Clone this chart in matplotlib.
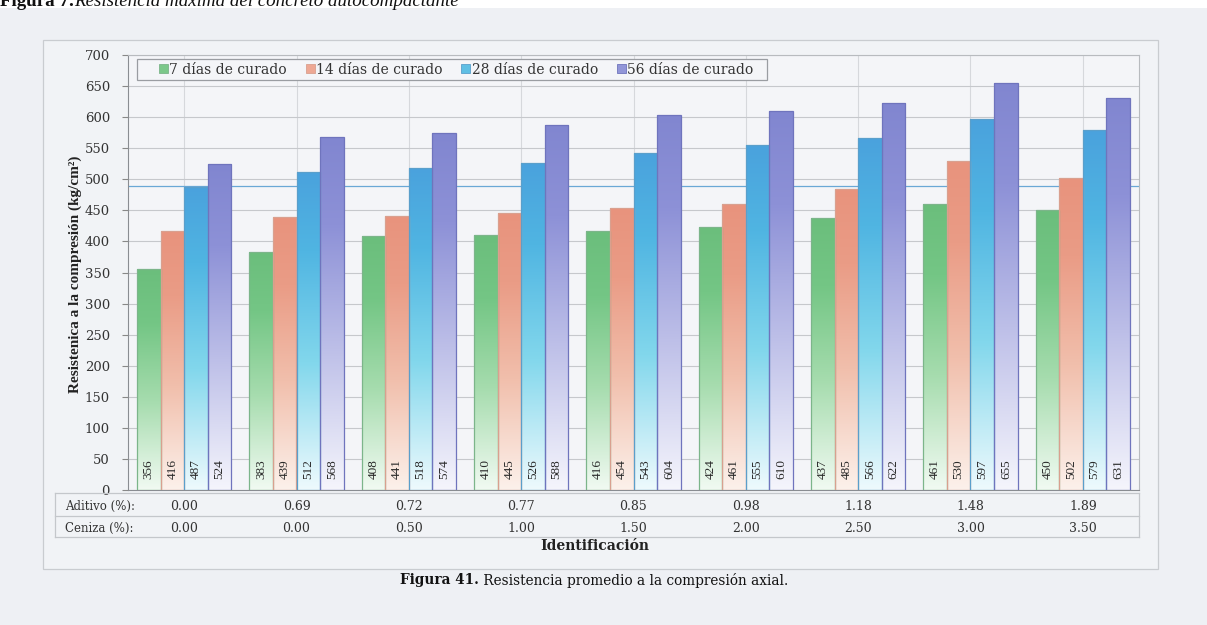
import matplotlib.pyplot as plt
import numpy as np
from matplotlib.colors import LinearSegmentedColormap
from matplotlib.lines import Line2D
from matplotlib.patches import Patch, Rectangle

# resistencia a la compresión (kg/cm2) por edad de curado
series_labels = ["7 días de curado", "14 días de curado",
                 "28 días de curado", "56 días de curado"]
dias_7 = [356, 383, 408, 410, 416, 424, 437, 461, 450]
dias_14 = [416, 439, 441, 445, 454, 461, 485, 530, 502]
dias_28 = [487, 512, 518, 526, 543, 555, 566, 597, 579]
dias_56 = [524, 568, 574, 588, 604, 610, 622, 655, 631]

aditivo = ["0.00", "0.69", "0.72", "0.77", "0.85", "0.98", "1.18", "1.48", "1.89"]
ceniza = ["0.00", "0.00", "0.50", "1.00", "1.50", "2.00", "2.50", "3.00", "3.50"]
y_ticks = list(range(0, 701, 50))
linea_ref = 490

W, H = 1207, 625
BG = "#eef0f4"
SERIF = "DejaVu Serif"
TIMES = "Liberation Serif"

# degradados: de casi blanco abajo al color pleno arriba
gradients = [
    ["#f1faf2", "#a6dcae", "#74c685", "#6bbe7c"],
    ["#fcf1eb", "#f1bfac", "#ea9c86", "#e8937d"],
    ["#eefafd", "#82d7ec", "#50b5e2", "#4aa2dd"],
    ["#f5f5fc", "#bdbfe8", "#8d91d7", "#8186d0"],
]
edge_colors = ["#7cb58a", "#d9a08f", "#5a9fcb", "#6f74bd"]
legend_colors = ["#7cc88a", "#eea894", "#5fbfe4", "#9296d8"]


def fx(x):
    return x / W


def fy(y):
    return 1 - y / H


fig = plt.figure(figsize=(W / 100, H / 100), dpi=100)
fig.patch.set_facecolor("white")
fig.add_artist(Rectangle((0, 0), 1, fy(8), transform=fig.transFigure,
                         facecolor=BG, edgecolor="none", zorder=-10))
fig.add_artist(Rectangle((fx(43), fy(569)), fx(1158) - fx(43), fy(40) - fy(569),
                         transform=fig.transFigure, facecolor="#f1f3f6",
                         edgecolor="#c9ccd0", linewidth=0.9, zorder=-5))

ax = fig.add_axes([fx(128), fy(490), fx(1139) - fx(128), fy(55) - fy(490)])
ax.set_facecolor("#f4f5f8")


def ax_x(px):
    return (px - 128) / (1139 - 128)


def ax_y(py):
    return (490 - py) / (490 - 55)


x = np.arange(len(aditivo))
width = 0.21
grad = np.linspace(0, 1, 256).reshape(-1, 1)
for k, values in enumerate([dias_7, dias_14, dias_28, dias_56]):
    cmap = LinearSegmentedColormap.from_list(
        f"g{k}", list(zip([0.0, 0.4, 0.75, 1.0], gradients[k])))
    bars = ax.bar(x + (k - 1.5) * width, values, width, facecolor="none",
                  edgecolor=edge_colors[k], linewidth=0.9, zorder=3)
    for rect, v in zip(bars, values):
        x0 = rect.get_x()
        im = ax.imshow(grad, extent=(x0, x0 + width, 0, v), origin="lower",
                       aspect="auto", cmap=cmap, interpolation="bilinear", zorder=2)
        im.set_clip_path(rect)
        ax.text(x0 + width / 2, 34, str(v), rotation=90, ha="center", va="center",
                fontsize=9.5, family=TIMES, color="#2a2a2a", zorder=4)

ax.axhline(linea_ref, color="#6aa8d6", linewidth=0.9, zorder=1)
ax.set_xlim(-0.5, len(aditivo) - 0.5)
ax.set_ylim(0, 700)
ax.set_yticks(y_ticks)
ax.set_xticks(x)
ax.tick_params(axis="x", length=0, labelbottom=False)
ax.tick_params(axis="y", length=4, pad=9, color="#888888", labelsize=9.5,
               labelcolor="#333333")
for lab in ax.get_yticklabels():
    lab.set_family(SERIF)
ax.grid(True, axis="y", color="#c6c8cc", linewidth=0.8, zorder=0)
ax.grid(True, axis="x", color="#d6d8dc", linewidth=0.8, zorder=0)
ax.set_axisbelow(True)
for side in ["top", "right"]:
    ax.spines[side].set_color("#b8bbbf")
ax.spines["left"].set_color("#8a8d92")
ax.spines["bottom"].set_color("#8a8d92")

# marco de la leyenda dibujado aparte para dejar margen a los lados
ax.add_patch(Rectangle((ax_x(137), ax_y(80)), ax_x(767) - ax_x(137),
                       ax_y(59) - ax_y(80), transform=ax.transAxes,
                       facecolor="#f4f5f8", edgecolor="#9a9da2", linewidth=0.9,
                       zorder=5, clip_on=False))
handles = [Patch(facecolor=c, edgecolor=e, linewidth=0.6)
           for c, e in zip(legend_colors, edge_colors)]
leg = ax.legend(handles, series_labels, ncol=4, loc="center left",
                bbox_to_anchor=(ax_x(159), ax_y(69.5)), bbox_transform=ax.transAxes,
                frameon=False, handlelength=0.65, handleheight=0.55,
                handletextpad=0.1, columnspacing=1.35, borderpad=0.0,
                borderaxespad=0.0, prop={"family": SERIF, "size": 10})
leg.set_zorder(6)
for t in leg.get_texts():
    t.set_color("#333333")

# tabla de aditivo y ceniza debajo del eje
for yy in [493, 516, 537]:
    fig.add_artist(Line2D([fx(55), fx(1139)], [fy(yy), fy(yy)],
                          transform=fig.transFigure, color="#c4c7cb", linewidth=0.9))
for xx in [55, 1139]:
    fig.add_artist(Line2D([fx(xx), fx(xx)], [fy(493), fy(537)],
                          transform=fig.transFigure, color="#c4c7cb", linewidth=0.9))
cell_tf = ax.get_xaxis_transform()
for row_label, row, yy in [("Aditivo (%):", aditivo, 506), ("Ceniza (%):", ceniza, 528)]:
    fig.text(fx(65), fy(yy), row_label, ha="left", va="center",
             fontsize=8.5, family=SERIF, color="#333333")
    for xi, val in zip(x, row):
        ax.text(xi, ax_y(yy), val, transform=cell_tf, ha="center", va="center",
                fontsize=9, family=SERIF, color="#333333", clip_on=False)

fig.text(fx(595), fy(546), "Identificación", ha="center", va="center",
         fontsize=10, family=SERIF, fontweight="bold", color="#222222")
fig.text(fx(75), fy(274), "Resistenica a la compresión (kg/cm²)", rotation=90,
         ha="center", va="center", fontsize=11, family=TIMES,
         fontweight="bold", color="#222222")

renderer = fig.canvas.get_renderer()


def two_part(x_px, y_px, bold_txt, rest_txt, size, family, rest_style, va):
    t1 = fig.text(fx(x_px), fy(y_px), bold_txt, ha="left", va=va, fontsize=size,
                  family=family, fontweight="bold", color="#111111")
    bb = t1.get_window_extent(renderer)
    fig.text(bb.x1 / W, fy(y_px), rest_txt, ha="left", va=va, fontsize=size,
             family=family, style=rest_style, color="#111111")


two_part(0, 6, "Figura 7.", "Resistencia máxima del concreto autocompactante",
         13.7, TIMES, "italic", "baseline")
two_part(400, 580, "Figura 41.", " Resistencia promedio a la compresión axial.",
         9.8, SERIF, "normal", "center")

fig.savefig("out.png", dpi=100, facecolor=fig.get_facecolor())
